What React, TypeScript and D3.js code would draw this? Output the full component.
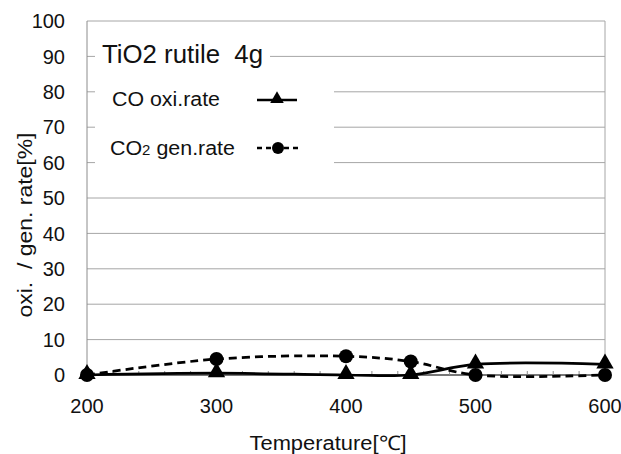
import React from "react";
import * as d3 from "d3";

const temps = [200, 300, 400, 450, 500, 600];
const coOxiRate = [0, 0.5, 0, 0, 3, 3];
const co2GenRate = [0, 4.5, 5.3, 3.8, 0, 0];
const yTicks = [0, 10, 20, 30, 40, 50, 60, 70, 80, 90, 100];
const xTicks = [200, 300, 400, 500, 600];
const xMinorTicks = d3.range(200, 601, 20);

const W = 621;
const H = 454;
const M = { left: 87, right: 16, top: 21, bottom: 79 };
const FONT = "Arial, 'Liberation Sans', sans-serif";

export default function App() {
  const x = d3.scaleLinear().domain([200, 600]).range([M.left, W - M.right]);
  const y = d3.scaleLinear().domain([0, 100]).range([H - M.bottom, M.top]);
  const curve = d3.curveCatmullRom.alpha(0.5);
  const lineGen = d3
    .line<[number, number]>()
    .x((d) => x(d[0]))
    .y((d) => y(d[1]))
    .curve(curve);
  const coPts: [number, number][] = temps.map((t, i) => [t, coOxiRate[i]]);
  const co2Pts: [number, number][] = temps.map((t, i) => [t, co2GenRate[i]]);
  const triLegend = d3.symbol().type(d3.symbolTriangle).size(80)() as string;
  const triMark = d3.symbol().type(d3.symbolTriangle).size(130)() as string;
  const grid = "#a6a6a6";
  const x0 = x(200);
  const x1 = x(600);
  const yb = y(0);
  const yt = y(100);

  return (
    <svg width={W} height={H} style={{ position: "absolute", left: 0, top: 0, background: "#fff" }}>
      <rect width={W} height={H} fill="#fff" />
      {/* grid */}
      {yTicks.map((t) => (
        <line key={"g" + t} x1={x0} x2={x1} y1={y(t)} y2={y(t)} stroke={grid} strokeWidth={1} />
      ))}
      <line x1={x1} x2={x1} y1={yt} y2={yb} stroke={grid} />
      <line x1={x0} x2={x0} y1={yt} y2={yb} stroke="#8c8c8c" />
      {/* y tick labels */}
      {yTicks.map((t) => (
        <text key={"yt" + t} x={65} y={y(t)} dy="0.36em" textAnchor="end" fontSize={20} fontFamily={FONT} fill="#111">
          {t}
        </text>
      ))}
      {/* x axis */}
      <line x1={x0} x2={x1} y1={yb} y2={yb} stroke="#595959" strokeWidth={1.5} />
      {xMinorTicks.map((t) => (
        <line key={"xm" + t} x1={x(t)} x2={x(t)} y1={yb} y2={yb - 4} stroke="#8c8c8c" />
      ))}
      {xTicks.map((t) => (
        <text key={"xt" + t} x={x(t)} y={413} textAnchor="middle" fontSize={20} fontFamily={FONT} fill="#111">
          {t}
        </text>
      ))}
      {/* axis titles */}
      <text x={328} y={450} textAnchor="middle" fontSize={20} fontFamily={FONT} fill="#111" textLength={157} lengthAdjust="spacingAndGlyphs">
        Temperature[℃]
      </text>
      <text
        transform={`translate(32, 225) rotate(-90)`}
        textAnchor="middle"
        fontSize={20}
        fontFamily={FONT}
        fill="#111"
        textLength={185}
        lengthAdjust="spacingAndGlyphs"
        style={{ whiteSpace: "pre" }}
      >
        {"oxi.  / gen. rate[%]"}
      </text>
      {/* legend boxes */}
      <rect x={95} y={40} width={270 - 95} height={28} fill="#fff" />
      <rect x={95} y={68} width={334 - 95} height={104} fill="#fff" />
      <text x={102} y={63} fontSize={25} fontFamily={FONT} fill="#111" textLength={161} lengthAdjust="spacingAndGlyphs" style={{ whiteSpace: "pre" }}>
        {"TiO2 rutile  4g"}
      </text>
      <text x={112} y={106} fontSize={20} fontFamily={FONT} fill="#111" textLength={108} lengthAdjust="spacingAndGlyphs">
        CO oxi.rate
      </text>
      <text x={110} y={155} fontSize={20} fontFamily={FONT} fill="#111" textLength={125} lengthAdjust="spacingAndGlyphs">
        CO<tspan fontSize={14}>2</tspan> gen.rate
      </text>
      <line x1={257} x2={297} y1={100} y2={100} stroke="#000" strokeWidth={2.5} />
      <path d={triLegend} transform="translate(277,99)" fill="#000" />
      <line x1={257} x2={299} y1={148} y2={148} stroke="#000" strokeWidth={2.5} strokeDasharray="5,4" />
      <circle cx={278} cy={148} r={6} fill="#000" />
      {/* series */}
      <path d={lineGen(co2Pts) || ""} fill="none" stroke="#000" strokeWidth={2.75} strokeDasharray="8,5" />
      <path d={lineGen(coPts) || ""} fill="none" stroke="#000" strokeWidth={2.75} />
      {co2Pts.map((p, i) => (
        <circle key={"c" + i} cx={x(p[0])} cy={y(p[1])} r={7} fill="#000" />
      ))}
      {coPts.map((p, i) => (
        <path key={"t" + i} d={triMark} transform={`translate(${x(p[0])},${y(p[1]) - 1})`} fill="#000" />
      ))}
    </svg>
  );
}
